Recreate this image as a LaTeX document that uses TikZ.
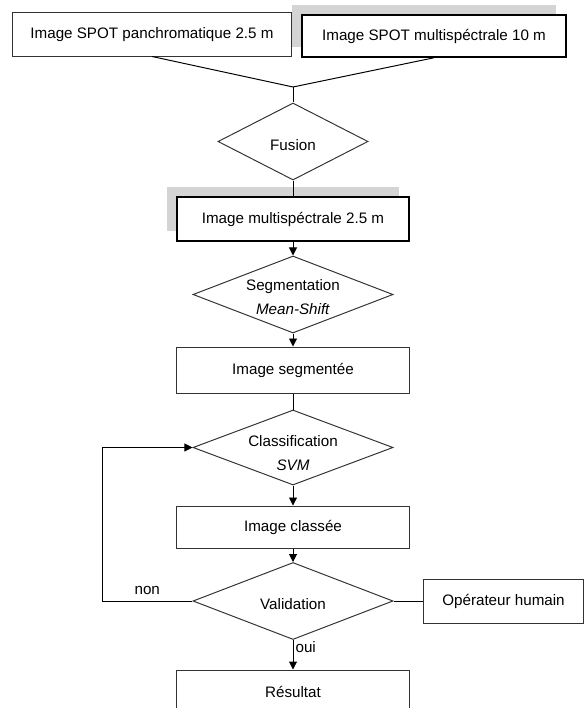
\documentclass[tikz,border=0pt]{standalone}
\usepackage{fontspec}
\setmainfont{Liberation Sans}
\usetikzlibrary{shapes.geometric,shadows,arrows.meta}
\tikzset{
  boite/.style={draw=black!80,line width=0.7pt,fill=white,minimum width=58mm,minimum height=11mm,inner sep=0pt},
  boiteombre/.style={boite,draw=black,line width=1.1pt,general shadow={shadow xshift=-2.5mm,shadow yshift=2.5mm,fill=black!17}},
  losange/.style={diamond,draw=black!80,line width=0.7pt,aspect=2.6,inner sep=0pt,minimum width=50mm,minimum height=19.25mm,align=center,text height=1.25em},
  losangedouble/.style={losange,text height=32.5pt,inner ysep=-5pt},
  fleche/.style={->,line width=0.7pt},
  lien/.style={line width=0.7pt}
}
\begin{document}
\begin{tikzpicture}[x=0.025cm,y=-0.025cm,>={Triangle[length=2mm,width=2mm]},font=\fontsize{10.8}{17}\selectfont]
\useasboundingbox (0,0) rectangle (584,708);
% images d'entree
\node[boite,minimum width=69.5mm,minimum height=10.75mm] (PAN) at (152,34.5) {Image SPOT panchromatique 2.5 m};
\node[boiteombre,minimum width=66mm,minimum height=10.5mm] (MS) at (434,36) {Image SPOT multispéctrale 10 m};
\coordinate (J) at (293,87);
\node[losange,minimum width=37.5mm] (FUS) at (293,141.5) {Fusion};
\node[boiteombre] (IMG) at (293,219) {Image multispéctrale 2.5 m};
% segmentation
\node[losangedouble,text height=29pt] (SEG) at (293,294.5) {Segmentation\\\textit{Mean-Shift}};
\node[boite,minimum height=11.5mm] (SEGIMG) at (293,370) {Image segmentée};
% classification
\node[losangedouble,minimum height=18.75mm] (CLS) at (293,447.5) {Classification\\\textit{SVM}};
\node[boite,minimum height=10.5mm] (CLSIMG) at (293,527) {Image classée};
\node[losange] (VAL) at (293,601) {Validation};
\node[boite,minimum width=39.75mm] (OP) at (503.5,601) {Opérateur humain};
\node[boite] (RES) at (293,692) {Résultat};
\coordinate (C1) at (102,601);
\path[lien]
  (PAN.south) edge (J)
  (MS.south) edge (J)
  (J) edge (FUS.north)
  (FUS.south) edge (IMG.north)
  (SEGIMG.south) edge (CLS.north)
  (VAL.east) edge (OP.west)
;
\draw[fleche] (IMG) -- (SEG);
\draw[fleche] (SEG) -- (SEGIMG);
\draw[fleche] (CLS) -- (CLSIMG);
\draw[fleche] (CLSIMG) -- (VAL);
\draw[fleche] (VAL) -- node[right,pos=0.25,inner sep=1.5pt] {oui} (RES);
\draw[fleche] (VAL.west) -- node[above,midway,inner sep=4pt] {non} (C1) |- (CLS.west);
\end{tikzpicture}
\end{document}
